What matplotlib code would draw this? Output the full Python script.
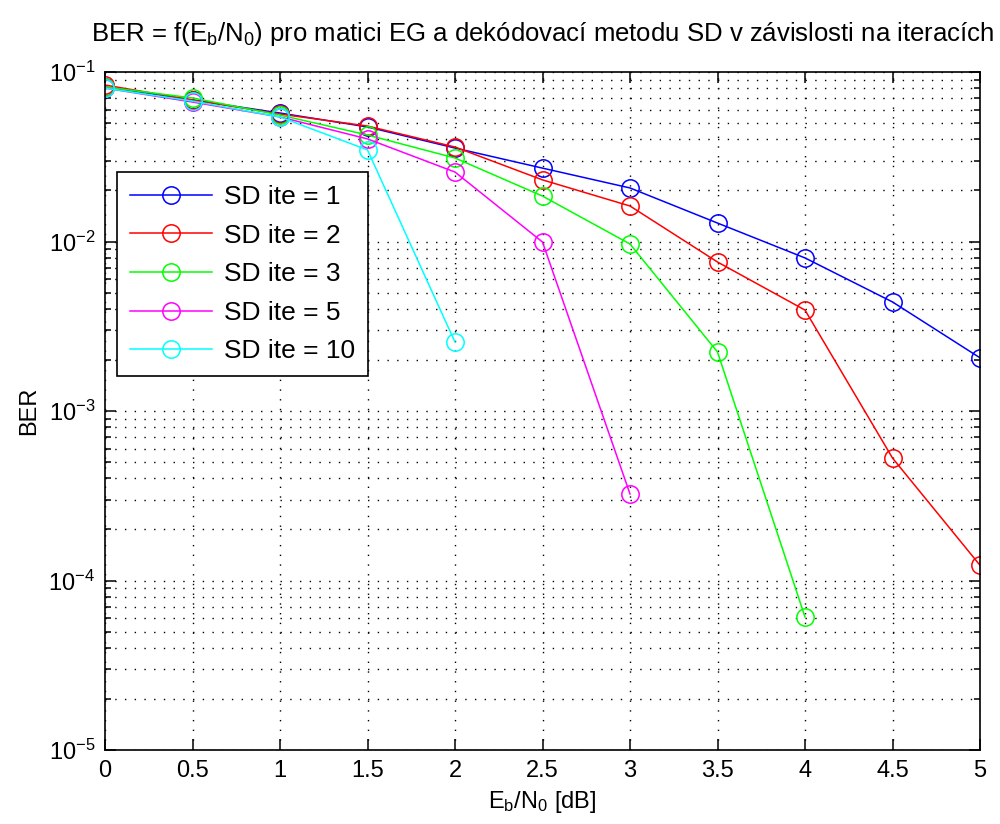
import numpy as np
import matplotlib
matplotlib.use('Agg')
import matplotlib.pyplot as plt

# Eb/N0 [dB]
snr = [0, 0.5, 1, 1.5, 2, 2.5, 3, 3.5, 4, 4.5, 5]
snr_labels = ['0', '0.5', '1', '1.5', '2', '2.5', '3', '3.5', '4', '4.5', '5']

ber_ite1 = [0.0816, 0.0684, 0.0573, 0.0474, 0.0356, 0.0271, 0.0207, 0.01285, 0.0080, 0.0044, 0.00206]
ber_ite2 = [0.0838, 0.0684, 0.0565, 0.0480, 0.0361, 0.0231, 0.0162, 0.00757, 0.00394, 0.000528, 0.000123]
ber_ite3 = [0.0816, 0.0703, 0.0557, 0.0425, 0.0311, 0.01854, 0.00967, 0.00223, 6.09e-5]
ber_ite5 = [0.0804, 0.0665, 0.0543, 0.0403, 0.0257, 0.00993, 0.000324]
ber_ite10 = [0.0804, 0.0674, 0.0543, 0.0347, 0.00255]

series = [
    ('SD ite = 1', ber_ite1, (0, 0, 1)),
    ('SD ite = 2', ber_ite2, (1, 0, 0)),
    ('SD ite = 3', ber_ite3, (0, 1, 0)),
    ('SD ite = 5', ber_ite5, (1, 0, 1)),
    ('SD ite = 10', ber_ite10, (0, 1, 1)),
]

plt.rcParams['font.family'] = ['Liberation Sans', 'DejaVu Sans']
plt.rcParams['mathtext.fontset'] = 'custom'
plt.rcParams['mathtext.rm'] = 'Liberation Sans'
plt.rcParams['mathtext.it'] = 'Liberation Sans'

fig = plt.figure(figsize=(10, 8.24), dpi=100)
ax = fig.add_axes([0.105, 0.0898, 0.875, 0.8228])

for name, ber, col in series:
    ax.semilogy(snr[:len(ber)], ber, '-o', color=col, lw=1.1, ms=12.5,
                mfc='none', mec=col, mew=1.1, label=name)

ax.set_xlim(0, 5)
ax.set_ylim(1e-5, 1e-1)
ax.set_xticks(snr)
ax.set_xticklabels(snr_labels)

# MATLAB style sparse dotted grid
dots = (0, (1, 6))
ax.grid(True, which='major', ls=dots, color='k', lw=1.0)
ax.grid(True, which='minor', axis='y', ls=dots, color='k', lw=1.0)
ax.tick_params(which='both', direction='in', top=True, right=True,
               labelsize=17, width=1.1, pad=7)
ax.tick_params(which='major', length=8)
ax.tick_params(which='minor', length=4.5)
for s in ax.spines.values():
    s.set_linewidth(1.2)

ax.set_xlabel('E$_b$/N$_0$ [dB]', fontsize=17, labelpad=5)
ax.set_ylabel('BER', fontsize=17, labelpad=6)
ax.set_title('BER = f(E$_b$/N$_0$) pro matici EG a dekódovací metodu SD v závislosti na iteracích',
             fontsize=18.5, pad=22)

leg = ax.legend(loc='upper left', bbox_to_anchor=(0.0137, 0.8525), borderaxespad=0,
                fontsize=19, fancybox=False, edgecolor='k', framealpha=1,
                handlelength=3.1, handletextpad=0.45, borderpad=0.5,
                labelspacing=0.55)
leg.get_frame().set_linewidth(1.2)

fig.savefig('out.png', dpi=100)
